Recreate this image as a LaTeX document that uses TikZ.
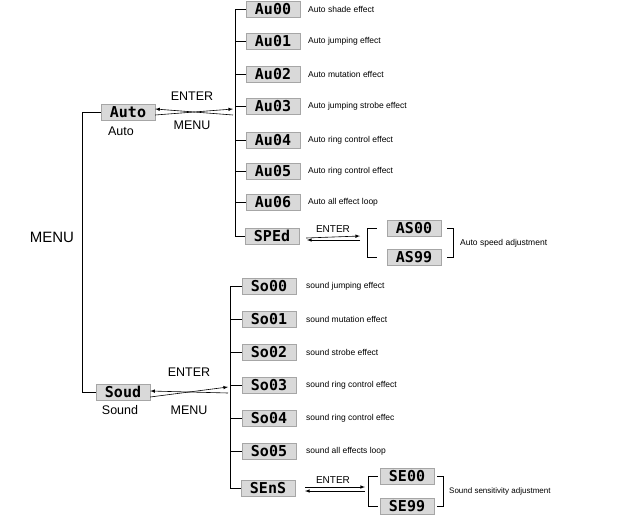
\documentclass[tikz,border=0pt]{standalone}
\usepackage{fontspec}
\setmainfont{Liberation Sans}
\newfontfamily\segfont{DejaVu Sans Mono}
\begin{document}
\begin{tikzpicture}[x=1pt,y=-1pt,
 disp/.style={draw=gray!70,fill=gray!30,minimum width=54pt,minimum height=16pt,inner sep=0pt,font=\segfont\bfseries\fontsize{15}{15}\selectfont},
 lbl/.style={anchor=west,font=\fontsize{8.5}{9}\selectfont,inner sep=0pt},
 big/.style={font=\fontsize{12.5}{13}\selectfont,inner sep=0pt},
 line/.style={line width=0.8pt},
 arr/.style={line width=0.6pt,-latex}]
\useasboundingbox (0,0) rectangle (621,522);
\node[big,font=\fontsize{15}{15}\selectfont] (menu) at (52,237) {MENU};
\node[disp] (auto) at (128,112) {Auto};
\node[big] (autol) at (121,131) {Auto};
\node[disp] (sound) at (123,392) {Soud};
\node[big] (soundl) at (120,410) {Sound};
\coordinate (t) at (82,112); \coordinate (b) at (82,392);
\draw[line] (auto.west) -- (t) -- (b) -- (sound.west);
% Auto list
\coordinate (ai) at (233,109);
\coordinate (ao) at (233,115);
\draw[arr] ([yshift=-3pt]auto.east) -- (ai);
\draw[arr] (ao) -- ([yshift=3pt]auto.east);
\node[big] (ae) at (192,96) {ENTER};
\node[big] (am) at (192,125) {MENU};
\foreach \n/\y/\t/\d in {a0/9/Au00/Auto shade effect,a1/41/Au01/Auto jumping effect,a2/74/Au02/Auto mutation effect,a3/106/Au03/Auto jumping strobe effect,a4/140/Au04/Auto ring control effect,a5/171/Au05/Auto ring control effect,a6/202/Au06/Auto all effect loop}{
 \node[disp] (\n) at (273,\y) {\t};
 \node[lbl] (\n t) at (308,\y) {\d};
}
\node[disp] (a7) at (272,236) {SPEd};
\draw[line] (a7.west) -| (235,236) -- (235,9) -- (a0.west);
\foreach \n in {a1,a2,a3,a4,a5,a6}{\draw[line] (235,0 |- \n.west) -- (\n.west);}
\coordinate (s1) at (360,236); \coordinate (s2) at (307,240);
\draw[arr] ([yshift=-2pt]a7.east) ++(7,0) -- (s1);
\draw[arr] (360,240) -- (s2);
\node[font=\fontsize{10}{10}\selectfont,inner sep=0pt] (se) at (333,229) {ENTER};
\node[disp] (as0) at (414,228) {AS00};
\node[disp] (as9) at (414,257) {AS99};
\draw[line] (as0.west) ++(-10,0) -- (367,228) -- (367,257) -- ([xshift=-10pt]as9.west);
\draw[line] (as0.east) ++(6,0) -- (453,228) -- (453,257) -- ([xshift=6pt]as9.east);
\node[lbl] (ast) at (460,243) {Auto speed adjustment};
% Sound list
\coordinate (si) at (228,387);
\coordinate (so) at (228,393);
\draw[arr] ([yshift=-5pt]sound.east) -- (si);
\draw[arr] (so) -- ([yshift=1pt]sound.east);
\node[big] (sen) at (189,372) {ENTER};
\node[big] (smn) at (189,410) {MENU};
\foreach \n/\y/\t/\d in {b0/286/So00/sound jumping effect,b1/319/So01/sound mutation effect,b2/352/So02/sound strobe effect,b3/385/So03/sound ring control effect,b4/418/So04/sound ring control effec,b5/451/So05/sound all effects loop}{
 \node[disp] (\n) at (269,\y) {\t};
 \node[lbl] (\n t) at (306,\y) {\d};
}
\node[disp] (b6) at (268,488) {SEnS};
\draw[line] (b6.west) -| (230,488) -- (230,286) -- (b0.west);
\foreach \n in {b1,b2,b3,b4,b5}{\draw[line] (230,0 |- \n.west) -- (\n.west);}
\coordinate (u1) at (365,487); \coordinate (u2) at (305,491);
\draw[arr] (305,487) -- (u1);
\draw[arr] (365,491) -- (u2);
\node[font=\fontsize{10}{10}\selectfont,inner sep=0pt] (ue) at (333,480) {ENTER};
\node[disp] (se0) at (407,476) {SE00};
\node[disp] (se9) at (407,506) {SE99};
\draw[line] (se0.west) ++(-2,0) -- (368,476) -- (368,506) -- ([xshift=-2pt]se9.west);
\draw[line] (se0.east) ++(3,0) -- (443,476) -- (443,506) -- ([xshift=3pt]se9.east);
\node[lbl,font=\fontsize{8}{9}\selectfont] (sst) at (449,491) {Sound sensitivity adjustment};
\end{tikzpicture}
\end{document}
